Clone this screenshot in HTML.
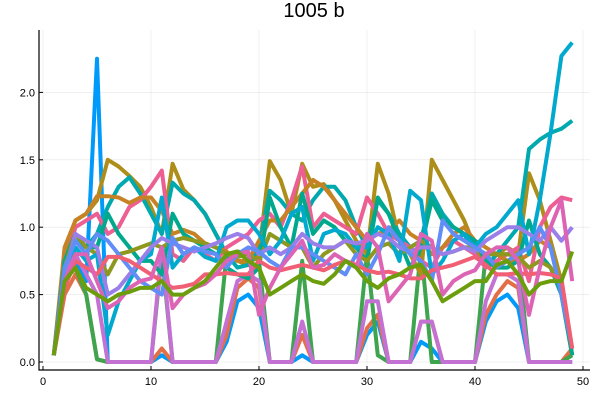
<!DOCTYPE html>
<html><head><meta charset="utf-8"><style>
body{margin:0;background:#fff;font-family:"Liberation Sans",sans-serif}
svg{display:block}
</style></head><body>
<svg id="chart" width="600" height="400">
<text x="314" y="17" text-anchor="middle" font-size="20" fill="#000">1005 b</text>
<g id="grid"></g><g id="series"></g><g id="axes"></g>
</svg>
<script>
const xTicks=[0,10,20,30,40,50];
const yTicks=[0.0,0.5,1.0,1.5,2.0];
const yTickLabels=["0.0","0.5","1.0","1.5","2.0"];
const colors=["#009AFA","#E36F47","#3EA44E","#C371D2","#AC8E18","#00A9AD","#ED5E93","#C68225","#00A98D","#8E971E","#00A9CD","#9B7FE9","#618DF6","#F05F73","#DD64B5","#6B9D0D"];
const s0=[0.05,0.6,0.75,0.6,2.25,0,0,0,0,0,0.05,0,0,0,0,0,0.15,0.45,0.5,0.4,0,0,0,0.05,0,0,0,0,0,0.2,0.3,0,0,0,0.15,0.1,0,0,0,0,0.3,0.45,0.5,0.4,0,0,0,0,0];
const s1=[0.05,0.5,0.65,0.5,0.02,0,0,0,0,0,0.1,0,0,0,0,0,0.2,0.55,0.62,0.55,0,0,0,0.2,0,0,0,0,0,0.25,0.35,0,0,0,0.3,0.3,0,0,0,0,0.35,0.5,0.6,0.55,0,0,0,0,0.1];
const s2=[0.05,0.65,0.7,0.5,0.02,0,0,0,0,0,0.8,0,0,0,0,0,0.8,0.82,0.8,0.75,0,0,0,0.75,0,0,0,0,0,0.8,0.05,0,0,0,0.85,0,0,0,0,0,0.8,0.8,0.8,0.8,0,0,0,0,0.05];
const s3=[0.05,0.65,0.8,0.65,0.5,0,0,0,0,0,0.85,0,0,0,0,0,0.3,0.6,0.65,0.6,0,0,0,0.3,0,0,0,0,0,0.45,0.45,0,0,0,0.3,0.3,0,0,0,0,0.45,0.65,0.65,0.6,0,0,0,0,0];
const s4=[0.05,0.8,1.05,1.1,1.2,1.5,1.45,1.38,1.3,1.15,0.95,1.47,1.28,1.2,1.1,0.95,0.8,0.75,0.72,0.8,1.49,1.35,1.1,1.47,1.3,1.32,1.2,1.05,0.9,0.8,1.47,1.25,0.9,0.8,0.65,1.5,1.35,1.2,1.05,0.85,0.7,0.8,0.85,0.8,1.4,1.2,0.9,0.6,0.05];
const s5=[0.05,0.75,0.9,0.85,0.95,1.15,1.3,1.37,1.25,1.1,0.95,1.33,1.25,1.2,1.1,0.95,0.8,0.7,0.72,0.85,1.27,1.2,1.1,1.05,1.2,1.3,1.3,1.2,1.0,0.85,1.2,1.1,0.95,0.85,0.9,1.25,1.1,1.0,0.95,0.8,0.7,0.8,0.9,1.0,1.58,1.65,1.7,1.73,1.79];
const s6=[0.05,0.7,1.0,1.05,1.1,0.95,1.0,1.15,1.2,1.3,1.42,0.8,0.75,0.85,0.8,0.75,0.85,0.9,0.95,1.05,1.1,1.0,1.2,1.45,1.0,1.1,1.05,1.0,0.95,1.22,1.1,0.95,0.9,0.85,0.75,0.7,0.85,0.9,0.85,0.8,0.7,0.75,0.8,0.85,0.6,1.0,1.15,1.22,1.2];
const s7=[0.05,0.85,1.05,1.1,1.23,1.23,1.22,1.18,1.22,1.22,1.12,0.95,0.98,0.95,0.88,0.85,0.82,0.75,0.75,0.9,1.05,1.05,1.15,1.25,1.35,1.3,1.2,1.1,1.0,0.9,0.95,0.98,1.05,0.95,0.9,0.8,0.85,0.95,1.0,0.9,0.85,0.8,0.75,0.75,0.8,0.9,0.85,0.5,0.05];
const s8=[0.05,0.75,0.95,0.85,0.85,1.1,0.95,0.85,0.75,0.75,0.65,1.1,0.95,0.9,0.85,0.8,0.7,0.65,0.62,0.7,1.22,1.0,0.85,1.25,0.95,1.05,1.0,0.9,0.85,0.75,1.22,1.1,0.9,0.7,0.85,1.2,1.05,1.0,0.95,0.9,0.75,0.7,0.7,0.75,1.05,0.8,0.7,0.5,0.05];
const s9=[0.05,0.7,0.95,0.85,0.8,0.65,0.8,0.82,0.85,0.88,0.85,0.9,0.92,0.9,0.88,0.85,0.8,0.78,0.8,0.75,0.95,0.9,0.85,0.85,0.7,0.8,0.85,0.9,0.8,0.75,0.85,0.88,0.8,0.85,0.9,0.85,0.8,0.82,0.85,0.85,0.8,0.8,0.8,0.78,0.7,0.75,0.7,0.55,0.1];
const s10=[0.05,0.6,0.85,0.75,0.8,0.2,0.45,0.6,0.75,0.8,1.22,0.7,0.8,0.85,0.78,0.75,1.0,1.05,1.05,0.95,0.8,0.9,1.1,1.15,0.75,0.95,0.98,0.95,0.85,0.85,1.0,0.95,0.75,1.27,1.2,0.65,0.75,0.9,0.95,0.85,0.95,1.0,1.1,1.2,0.8,1.2,1.7,2.27,2.37];
const s11=[0.05,0.65,0.95,0.9,0.85,0.5,0.55,0.65,0.75,0.85,0.92,0.88,0.85,0.82,0.85,0.88,0.92,0.95,0.92,0.8,0.85,0.8,0.85,0.95,0.88,0.85,0.85,0.9,0.88,0.9,0.95,0.92,0.85,0.82,0.85,0.85,0.8,0.82,0.85,0.82,0.9,0.95,1.0,1.0,0.95,0.9,1.0,0.9,1.0];
const s12=[0.05,0.7,0.9,0.8,0.95,0.9,0.8,0.7,0.6,0.55,0.5,0.92,0.8,0.85,0.82,0.8,0.7,0.8,0.85,0.82,0.75,0.7,0.85,0.85,0.8,0.75,0.7,0.65,0.8,0.65,0.8,1.0,0.9,0.8,0.75,0.6,1.05,0.95,0.9,0.85,0.8,0.7,0.75,0.8,0.85,1.0,0.85,0.5,0.1];
const s13=[0.05,0.55,0.75,0.7,0.65,0.78,0.78,0.75,0.7,0.65,0.6,0.55,0.56,0.58,0.65,0.65,0.66,0.65,0.65,0.75,0.7,0.68,0.7,0.72,0.7,0.68,0.72,0.75,0.72,0.68,0.66,0.67,0.65,0.62,0.62,0.68,0.7,0.72,0.75,0.78,0.72,0.65,0.65,0.66,0.65,0.66,0.65,0.62,0.1];
const s14=[0.05,0.6,0.8,0.8,0.6,0.4,0.45,0.55,0.6,0.62,0.85,0.4,0.5,0.55,0.58,0.65,0.75,0.8,0.82,0.35,0.55,0.7,0.8,0.9,0.7,0.72,0.8,0.75,0.7,0.95,0.85,0.45,0.55,0.65,0.95,0.9,0.5,0.6,0.65,0.68,0.8,0.85,0.85,0.75,0.35,0.7,1.0,1.2,0.6];
const s15=[0.05,0.6,0.7,0.55,0.5,0.45,0.5,0.52,0.55,0.55,0.6,0.5,0.5,0.55,0.6,0.7,0.8,0.82,0.75,0.7,0.5,0.55,0.6,0.65,0.6,0.58,0.65,0.75,0.7,0.6,0.55,0.62,0.65,0.7,0.72,0.6,0.45,0.5,0.55,0.6,0.6,0.72,0.75,0.65,0.5,0.58,0.6,0.6,0.82];
const series=[s0,s1,s2,s3,s4,s5,s6,s7,s8,s9,s10,s11,s12,s13,s14,s15];
const L=39,R=590,T=30,B=370;
const xs=v=>43+v*10.8;
const ys=v=>362-v*134.8;
const NS="http://www.w3.org/2000/svg";
const g=document.getElementById('grid'),sg=document.getElementById('series'),ag=document.getElementById('axes');
function mk(tag,attrs,parent){const e=document.createElementNS(NS,tag);for(const k in attrs)e.setAttribute(k,attrs[k]);parent.appendChild(e);return e;}
xTicks.forEach(t=>{const l=mk('line',{x1:xs(t),x2:xs(t),y1:T,y2:B,stroke:'#000','stroke-opacity':0.1,'stroke-width':0.6},g);


const tk=mk('line',{x1:xs(t),x2:xs(t),y1:B,y2:B-4,stroke:'#000'},ag);


const tx=mk('text',{x:xs(t),y:B+15,'text-anchor':'middle','font-size':11},ag);tx.textContent=t;

});
yTicks.forEach((t,i)=>{const l=mk('line',{x1:L,x2:R,y1:ys(t),y2:ys(t),stroke:'#000','stroke-opacity':0.1,'stroke-width':0.6},g);


const tk=mk('line',{x1:L,x2:L+4,y1:ys(t),y2:ys(t),stroke:'#000'},ag);


const tx=mk('text',{x:L-4,y:ys(t)+4,'text-anchor':'end','font-size':11},ag);tx.textContent=yTickLabels[i];

});
const ax=mk('path',{d:`M${L},${T}V${B}H${R}`,fill:'none',stroke:'#000','stroke-width':1.2},ag);


series.forEach((s,i)=>{const d=s.map((v,j)=>(j?'L':'M')+xs(j+1).toFixed(1)+','+ys(v).toFixed(1)).join('');
const p=mk('path',{d:d,fill:'none',stroke:colors[i],'stroke-width':4,'stroke-linejoin':'round'},sg);

});
</script>
</body></html>
